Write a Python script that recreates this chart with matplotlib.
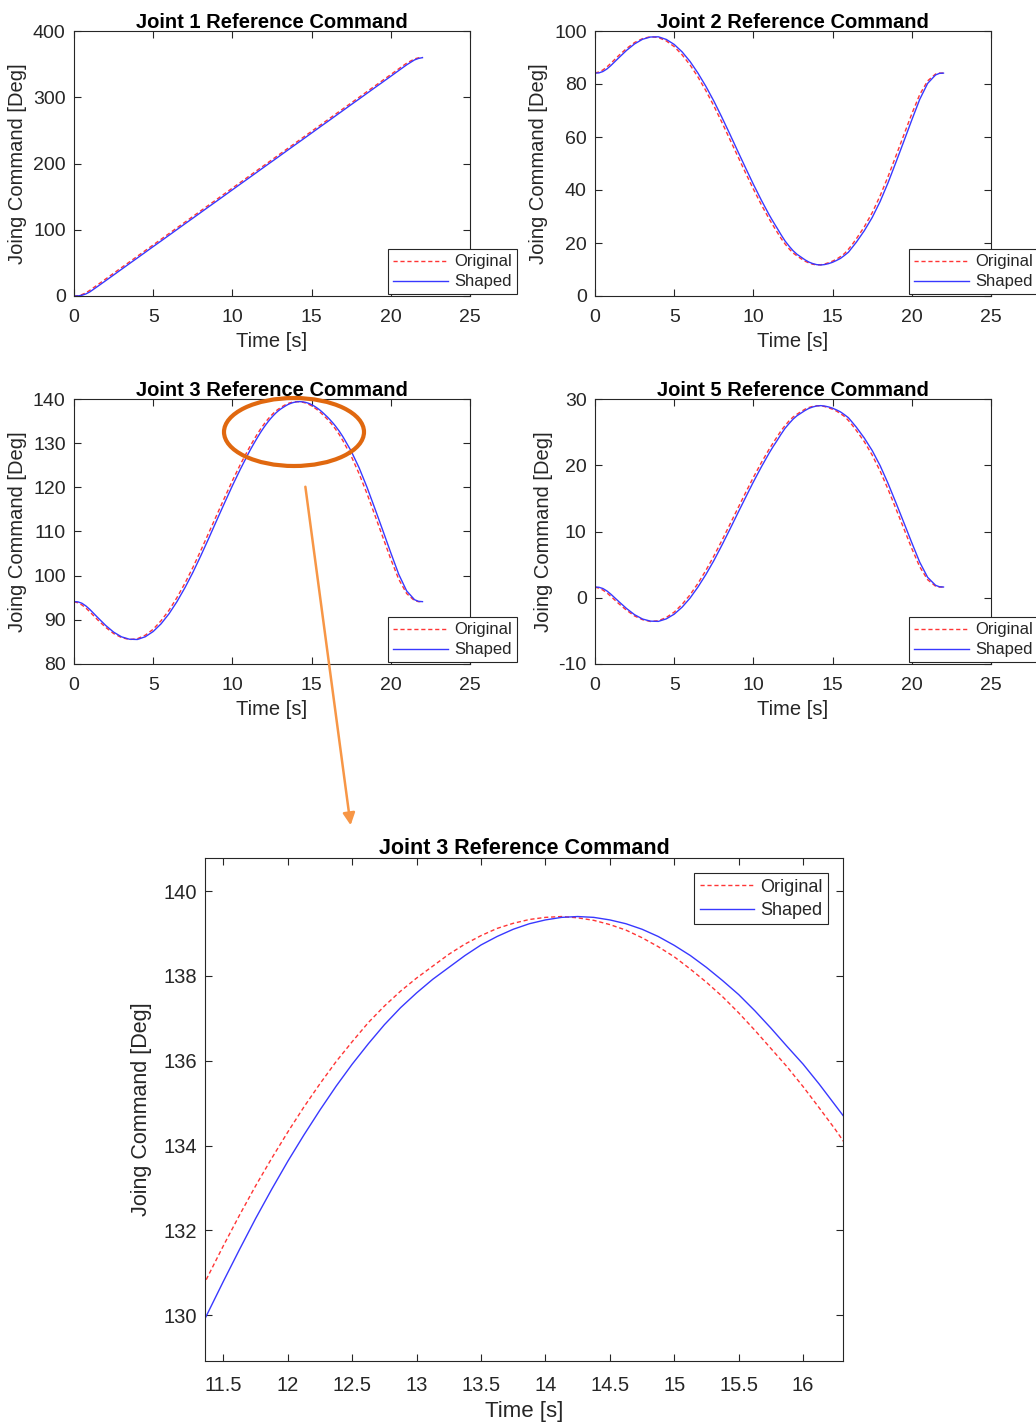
import numpy as np
import matplotlib
matplotlib.use('Agg')
import matplotlib.pyplot as plt
from matplotlib.patches import Ellipse, FancyArrowPatch
from matplotlib.ticker import FormatStrFormatter

plt.rcParams['font.family'] = ['Liberation Sans', 'DejaVu Sans']
plt.rcParams['axes.unicode_minus'] = False

# time samples [s]
t = [0, 0.25, 0.5, 0.75, 1, 1.5, 2, 2.5, 3, 3.5, 4, 4.5, 5, 5.5, 6, 6.5, 7, 7.5, 8, 8.5,
     9, 9.5, 10, 10.5, 11, 11.25, 11.5, 11.75, 12, 12.25, 12.5, 12.75, 13, 13.25, 13.5, 13.75,
     14, 14.25, 14.5, 14.75, 15, 15.25, 15.5, 15.75, 16, 16.25, 16.5, 17, 17.5, 18, 18.5,
     19, 19.5, 20, 20.5, 21, 21.5, 21.75, 22]

# joint 1
j1_orig = [0, 0.5, 2.1, 4.8, 8.6, 17.1, 25.7, 34.3, 42.9, 51.4, 60.0, 68.6, 77.1, 85.7, 94.3,
           102.9, 111.4, 120.0, 128.6, 137.1, 145.7, 154.3, 162.9, 171.4, 180.0, 184.3, 188.6,
           192.9, 197.1, 201.4, 205.7, 210.0, 214.3, 218.6, 222.9, 227.1, 231.4, 235.7, 240.0,
           244.3, 248.6, 252.9, 257.1, 261.4, 265.7, 270.0, 274.3, 282.9, 291.4, 300.0, 308.6,
           317.1, 325.7, 334.3, 342.9, 351.4, 357.9, 359.5, 360.0]
j1_shaped = [0, 0.1, 1.1, 3.1, 6.2, 14.6, 23.1, 31.7, 40.3, 48.9, 57.4, 66.0, 74.6, 83.1, 91.7,
             100.3, 108.9, 117.4, 126.0, 134.6, 143.1, 151.7, 160.3, 168.9, 177.4, 181.7, 186.0,
             190.3, 194.6, 198.9, 203.1, 207.4, 211.7, 216.0, 220.3, 224.6, 228.9, 233.1, 237.4,
             241.7, 246.0, 250.3, 254.6, 258.9, 263.1, 267.4, 271.7, 280.3, 288.9, 297.4, 306.0,
             314.6, 323.1, 331.7, 340.3, 348.9, 356.4, 358.6, 359.8]

# joint 2
j2_orig = [84.15, 84.54, 85.31, 86.43, 87.81, 90.75, 93.42, 95.66, 97.12, 97.86, 97.55, 96.26,
           94.11, 91.00, 87.21, 82.64, 77.47, 71.78, 65.66, 59.28, 52.90, 46.52, 40.32, 34.46,
           29.03, 26.53, 24.11, 21.70, 19.63, 17.82, 16.27, 15.15, 14.11, 13.17, 12.48, 11.98,
           11.75, 11.78, 12.08, 12.56, 13.17, 13.89, 14.89, 16.01, 17.65, 19.54, 21.61, 26.10,
           31.44, 37.82, 45.06, 52.90, 60.83, 68.76, 76.01, 81.18, 83.76, 84.11, 84.11]
j2_shaped = [84.11, 84.19, 84.71, 85.66, 86.95, 89.88, 92.73, 95.14, 96.87, 97.73, 97.81, 96.82,
             94.93, 92.12, 88.50, 84.11, 79.11, 73.59, 67.56, 61.27, 54.80, 48.42, 42.13, 36.18,
             30.58, 28.01, 25.58, 23.08, 20.75, 18.85, 17.13, 15.75, 14.72, 13.68, 12.82, 12.22,
             11.83, 11.70, 11.87, 12.22, 12.73, 13.42, 14.20, 15.32, 16.53, 18.42, 20.32, 24.63,
             29.63, 35.66, 42.73, 50.49, 58.42, 66.44, 74.20, 80.23, 83.42, 84.02, 84.11]

# joint 3 (denser samples around the peak, shown again in the zoomed plot)
t3 = [0, 0.25, 0.5, 0.75, 1, 1.5, 2, 2.5, 3, 3.5, 4, 4.5, 5, 5.5, 6, 6.5, 7, 7.5, 8, 8.5,
      9, 9.5, 10, 10.5, 11, 11.125, 11.25, 11.375, 11.5, 11.625, 11.75, 11.875, 12, 12.125,
      12.25, 12.375, 12.5, 12.625, 12.75, 12.875, 13, 13.125, 13.25, 13.375, 13.5, 13.625,
      13.75, 13.875, 14, 14.125, 14.25, 14.375, 14.5, 14.625, 14.75, 14.875, 15, 15.125,
      15.25, 15.375, 15.5, 15.625, 15.75, 15.875, 16, 16.125, 16.25, 16.375, 16.5, 16.75,
      17, 17.5, 18, 18.5, 19, 19.5, 20, 20.5, 21, 21.5, 21.75, 22]
j3_orig = [94.10, 93.85, 93.37, 92.67, 91.81, 89.97, 88.30, 86.90, 85.99, 85.53, 85.72, 86.52,
           87.87, 89.81, 92.18, 95.04, 98.27, 101.83, 105.66, 109.65, 113.64, 117.62, 121.51,
           125.17, 128.55, 129.34, 130.12, 130.89, 131.64, 132.36, 133.05, 133.70, 134.32,
           134.91, 135.46, 135.98, 136.45, 136.90, 137.29, 137.64, 137.95, 138.23, 138.51,
           138.75, 138.95, 139.12, 139.24, 139.33, 139.38, 139.40, 139.37, 139.31, 139.21,
           139.08, 138.90, 138.69, 138.45, 138.16, 137.85, 137.51, 137.13, 136.72, 136.29,
           135.86, 135.39, 134.89, 134.38, 133.83, 133.23, 131.93, 130.40, 127.06, 123.07,
           118.54, 113.64, 108.68, 103.72, 99.19, 95.96, 94.34, 94.12, 94.12]
j3_shaped = [94.12, 94.07, 93.75, 93.15, 92.35, 90.51, 88.73, 87.22, 86.15, 85.61, 85.55, 86.17,
             87.36, 89.11, 91.38, 94.12, 97.25, 100.70, 104.47, 108.41, 112.45, 116.44, 120.37,
             124.09, 127.60, 128.45, 129.25, 130.03, 130.80, 131.55, 132.28, 132.97, 133.63,
             134.25, 134.84, 135.40, 135.92, 136.40, 136.85, 137.25, 137.60, 137.92, 138.20,
             138.48, 138.73, 138.93, 139.10, 139.23, 139.32, 139.38, 139.40, 139.38, 139.32,
             139.23, 139.10, 138.93, 138.72, 138.48, 138.20, 137.89, 137.56, 137.18, 136.77,
             136.34, 135.92, 135.45, 134.95, 134.45, 133.90, 132.70, 131.32, 128.19, 124.42,
             120.00, 115.15, 110.19, 105.17, 100.32, 96.55, 94.56, 94.18, 94.12]

# joint 5
j5_orig = [1.60, 1.45, 1.16, 0.74, 0.21, -0.89, -1.90, -2.75, -3.31, -3.58, -3.47, -2.98,
           -2.17, -0.99, 0.44, 2.17, 4.13, 6.28, 8.59, 11.00, 13.42, 15.83, 18.18, 20.39,
           22.45, 23.39, 24.31, 25.22, 26.00, 26.69, 27.27, 27.70, 28.09, 28.45, 28.71, 28.89,
           28.98, 28.97, 28.86, 28.67, 28.45, 28.17, 27.79, 27.37, 26.75, 26.03, 25.25, 23.56,
           21.53, 19.12, 16.38, 13.42, 10.42, 7.42, 4.68, 2.72, 1.75, 1.62, 1.62]
j5_shaped = [1.62, 1.58, 1.39, 1.03, 0.54, -0.57, -1.64, -2.56, -3.21, -3.53, -3.57, -3.19,
             -2.48, -1.42, -0.05, 1.62, 3.51, 5.59, 7.88, 10.26, 12.70, 15.11, 17.49, 19.74,
             21.86, 22.84, 23.75, 24.70, 25.58, 26.29, 26.95, 27.47, 27.86, 28.25, 28.58, 28.80,
             28.95, 29.00, 28.93, 28.80, 28.61, 28.35, 28.05, 27.63, 27.17, 26.46, 25.74, 24.11,
             22.22, 19.94, 17.26, 14.33, 11.33, 8.30, 5.37, 3.08, 1.88, 1.65, 1.62]

RED = '#ff3535'
BLUE = '#3838ff'
AXC = '#262626'
W, H = 1036, 1423


def box(l, top, r, bot):
    return [l / W, (H - bot) / H, (r - l) / W, (bot - top) / H]


def style(ax, fs, pad):
    for s in ax.spines.values():
        s.set_color(AXC)
        s.set_linewidth(0.8)
    ax.tick_params(direction='in', top=True, right=True, length=5, width=0.8,
                   colors=AXC, labelsize=fs, labelcolor=AXC, pad=6)
    ax.tick_params(axis='x', pad=pad)


def add_legend(ax, loc, anchor, fs, hl, ls):
    leg = ax.legend(loc=loc, bbox_to_anchor=anchor, fontsize=fs, fancybox=False,
                    framealpha=1, edgecolor=AXC, borderaxespad=0, handlelength=hl,
                    handletextpad=0.35, labelspacing=ls, borderpad=0.3)
    leg.get_frame().set_linewidth(0.8)
    for txt in leg.get_texts():
        txt.set_color(AXC)


def small(ax, x, yo, ys, title, ylim, yticks):
    ax.plot(x, yo, color=RED, ls=(0, (3, 2)), lw=1.0, label='Original')
    ax.plot(x, ys, color=BLUE, lw=1.0, label='Shaped')
    ax.set_xlim(0, 25)
    ax.set_ylim(*ylim)
    ax.set_xticks([0, 5, 10, 15, 20, 25])
    ax.set_yticks(yticks)
    style(ax, 14, 9)
    ax.set_title(title, fontsize=14.5, fontweight='bold', pad=2)
    ax.set_xlabel('Time [s]', fontsize=14.5, color=AXC, labelpad=5)
    ax.set_ylabel('Joing Command [Deg]', fontsize=14.5, color=AXC, labelpad=4)
    add_legend(ax, 'lower right', (1.118, 0.006), 12, 3.3, 0.3)


fig = plt.figure(figsize=(W / 100, H / 100), dpi=100)

ax1 = fig.add_axes(box(74, 31, 470, 296))
small(ax1, t, j1_orig, j1_shaped, 'Joint 1 Reference Command', (0, 400), [0, 100, 200, 300, 400])
ax2 = fig.add_axes(box(595, 31, 991, 296))
small(ax2, t, j2_orig, j2_shaped, 'Joint 2 Reference Command', (0, 100), [0, 20, 40, 60, 80, 100])
ax3 = fig.add_axes(box(74, 399, 470, 664))
small(ax3, t3, j3_orig, j3_shaped, 'Joint 3 Reference Command', (80, 140),
      [80, 90, 100, 110, 120, 130, 140])
ax4 = fig.add_axes(box(595, 399, 991, 664))
small(ax4, t, j5_orig, j5_shaped, 'Joint 5 Reference Command', (-10, 30), [-10, 0, 10, 20, 30])

# zoomed view of joint 3 around the peak
ax5 = fig.add_axes(box(205, 858, 843, 1361))
ax5.plot(t3, j3_orig, color=RED, ls=(0, (3, 2)), lw=1.0, label='Original')
ax5.plot(t3, j3_shaped, color=BLUE, lw=1.0, label='Shaped')
ax5.set_xlim(11.357, 16.31)
ax5.set_ylim(128.92, 140.78)
ax5.set_xticks([11.5, 12, 12.5, 13, 13.5, 14, 14.5, 15, 15.5, 16])
ax5.set_yticks([130, 132, 134, 136, 138, 140])
ax5.xaxis.set_major_formatter(FormatStrFormatter('%g'))
style(ax5, 14.5, 11)
ax5.set_title('Joint 3 Reference Command', fontsize=15.5, fontweight='bold', pad=3)
ax5.set_xlabel('Time [s]', fontsize=16, color=AXC, labelpad=4)
ax5.set_ylabel('Joing Command [Deg]', fontsize=15.5, color=AXC, labelpad=8)
add_legend(ax5, 'upper right', (0.9765, 0.970), 13, 3.0, 0.35)

# highlight ellipse and arrow
ell = Ellipse((294 / W, (H - 432) / H), 140 / W, 68 / H, transform=fig.transFigure,
              fill=False, edgecolor='#e0680f', lw=3.0)
fig.add_artist(ell)
arr = FancyArrowPatch((305 / W, (H - 484) / H), (351 / W, (H - 828) / H),
                      transform=fig.transFigure, arrowstyle='-|>', mutation_scale=18,
                      color='#f79646', lw=1.8)
fig.add_artist(arr)

fig.savefig('out.png', dpi=100)
